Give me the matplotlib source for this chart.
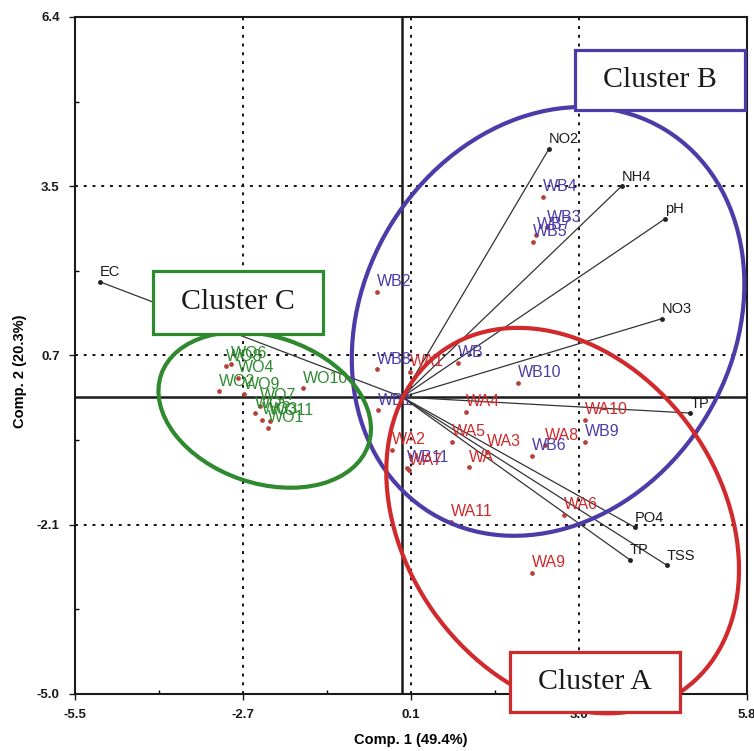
import matplotlib
matplotlib.use('Agg')
import matplotlib.pyplot as plt
from matplotlib.patches import Ellipse, Rectangle
import numpy as np

plt.rcParams['font.family'] = ['Liberation Sans', 'DejaVu Sans']

# ---------------- data ----------------
var_names = ['EC', 'NO2', 'NH4', 'pH', 'NO3', 'TP', 'PO4', 'TP', 'TSS']
var_x = [-5.08, 2.47, 3.69, 4.42, 4.37, 4.85, 3.91, 3.83, 4.45]
var_y = [1.94, 4.18, 3.55, 3.00, 1.32, -0.27, -2.19, -2.74, -2.83]

wb_labels = ['WB', 'WB1', 'WB2', 'WB3', 'WB4', 'WB5', 'WB6', 'WB7', 'WB8', 'WB9', 'WB10', 'WB11']
wb_x = [0.94, -0.41, -0.42, 2.43, 2.37, 2.20, 2.18, 2.26, -0.42, 3.07, 1.95, 0.08]
wb_y = [0.58, -0.22, 1.77, 2.86, 3.37, 2.61, -0.99, 2.73, 0.47, -0.75, 0.24, -1.19]

wa_labels = ['WA', 'WA1', 'WA2', 'WA3', 'WA4', 'WA5', 'WA6', 'WA7', 'WA8', 'WA9', 'WA10', 'WA11']
wa_x = [1.12, 0.14, -0.17, 1.42, 1.07, 0.84, 2.72, 0.11, 2.40, 2.18, 3.07, 0.82]
wa_y = [-1.18, 0.43, -0.89, -0.92, -0.25, -0.75, -1.98, -1.23, -0.81, -2.96, -0.38, -2.10]

wo_labels = ['WO1', 'WO2', 'WO3', 'WO4', 'WO5', 'WO6', 'WO7', 'WO8', 'WO9', 'WO10', 'WO11']
wo_x = [-2.26, -3.08, -2.36, -2.76, -2.47, -2.88, -2.39, -2.96, -2.66, -1.67, -2.22]
wo_y = [-0.52, 0.10, -0.38, 0.32, -0.27, 0.56, -0.15, 0.52, 0.05, 0.15, -0.40]

x_ticks = [-5.5, -2.675, 0.15, 2.975, 5.8]
x_tick_labels = ['-5.5', '-2.7', '0.1', '3.0', '5.8']
y_ticks = [-5.0, -2.15, 0.7, 3.55, 6.4]
y_tick_labels = ['-5.0', '-2.1', '0.7', '3.5', '6.4']

x_title = 'Comp. 1 (49.4%)'
y_title = 'Comp. 2 (20.3%)'

# ---------------- styling ----------------
RED = '#d02a2c'
BLUE = '#4e3ba8'
GREEN = '#2f8a2f'
DOT = '#b8403a'

fig = plt.figure(figsize=(7.54, 7.51), dpi=100)
ax = fig.add_axes([0.0995, 0.0759, 0.8912, 0.9015])
ax.set_xlim(x_ticks[0], x_ticks[-1])
ax.set_ylim(y_ticks[0], y_ticks[-1])

# dotted grid at inner ticks
for t in x_ticks[1:-1]:
    ax.axvline(t, color='#111111', lw=1.4, ls=(0, (1.5, 3.0)), zorder=1)
for t in y_ticks[1:-1]:
    ax.axhline(t, color='#111111', lw=1.4, ls=(0, (1.5, 3.0)), zorder=1)

# zero lines
ax.axhline(0, color='#1a1a1a', lw=1.8, zorder=2)
ax.axvline(0, color='#1a1a1a', lw=1.8, zorder=2)

# loadings
for name, vx, vy in zip(var_names, var_x, var_y):
    ax.plot([0, vx], [0, vy], color='#333333', lw=0.9, zorder=3)
    ax.plot([vx], [vy], 'o', ms=2.5, color='#222222', zorder=3)
    ax.annotate(name, (vx, vy), xytext=(0, 4), textcoords='offset points',
                fontsize=10.5, ha='left', va='baseline', color='#1a1a1a', zorder=4)

# observations
for labels, xs, ys, col in [(wo_labels, wo_x, wo_y, GREEN),
                            (wb_labels, wb_x, wb_y, BLUE),
                            (wa_labels, wa_x, wa_y, RED)]:
    ax.plot(xs, ys, 'o', ms=2.4, color=DOT, ls='none', zorder=3)
    for lab, px, py in zip(labels, xs, ys):
        ax.annotate(lab, (px, py), xytext=(0, 4), textcoords='offset points',
                    fontsize=11.5, ha='left', va='baseline', color=col, zorder=4)

# cluster ellipses
ax.add_patch(Ellipse((2.455, 1.274), 7.56, 6.21, angle=58.7, fill=False,
                     ec=BLUE, lw=3.0, zorder=5, clip_on=False))
ax.add_patch(Ellipse((2.70, -2.08), 7.00, 5.32, angle=-54.8, fill=False,
                     ec=RED, lw=3.0, zorder=5.5, clip_on=False))
ax.add_patch(Ellipse((-2.31, -0.216), 3.68, 2.47, angle=-18.8, fill=False,
                     ec=GREEN, lw=3.0, zorder=5, clip_on=False))

# cluster boxes
for (x0, y0, w, h, col, txt) in [(2.903, 4.834, 2.857, 1.01, BLUE, 'Cluster B'),
                                 (1.811, -5.30, 2.857, 1.01, RED, 'Cluster A'),
                                 (-4.189, 1.063, 2.857, 1.061, GREEN, 'Cluster C')]:
    ax.add_patch(Rectangle((x0, y0), w, h, fc='white', ec=col, lw=2.3,
                           zorder=6, clip_on=False))
    ax.text(x0 + w / 2, y0 + h / 2, txt, ha='center', va='center',
            fontsize=21.5, family=['Liberation Serif', 'DejaVu Serif'],
            color='#1a1a1a', zorder=7, clip_on=False)

# ticks
ax.set_xticks(x_ticks)
ax.set_xticklabels(x_tick_labels)
ax.set_yticks(y_ticks)
ax.set_yticklabels(y_tick_labels)
ax.set_xticks((np.array(x_ticks[:-1]) + np.array(x_ticks[1:])) / 2, minor=True)
ax.set_yticks((np.array(y_ticks[:-1]) + np.array(y_ticks[1:])) / 2, minor=True)
ax.tick_params(which='major', direction='out', length=4, width=1.0,
               labelsize=9.5, pad=7, colors='#1a1a1a')
ax.tick_params(which='minor', direction='in', length=3, width=1.0)
for lbl in ax.get_xticklabels() + ax.get_yticklabels():
    lbl.set_fontweight('bold')

for sp in ax.spines.values():
    sp.set_linewidth(1.5)
    sp.set_color('#1a1a1a')

ax.set_xlabel(x_title, fontsize=10.5, fontweight='bold')
ax.xaxis.set_label_coords(0.5, -0.058)
ax.set_ylabel(y_title, fontsize=10.5, fontweight='bold')
ax.yaxis.set_label_coords(-0.072, 0.476)

fig.savefig('out.png', dpi=100)
